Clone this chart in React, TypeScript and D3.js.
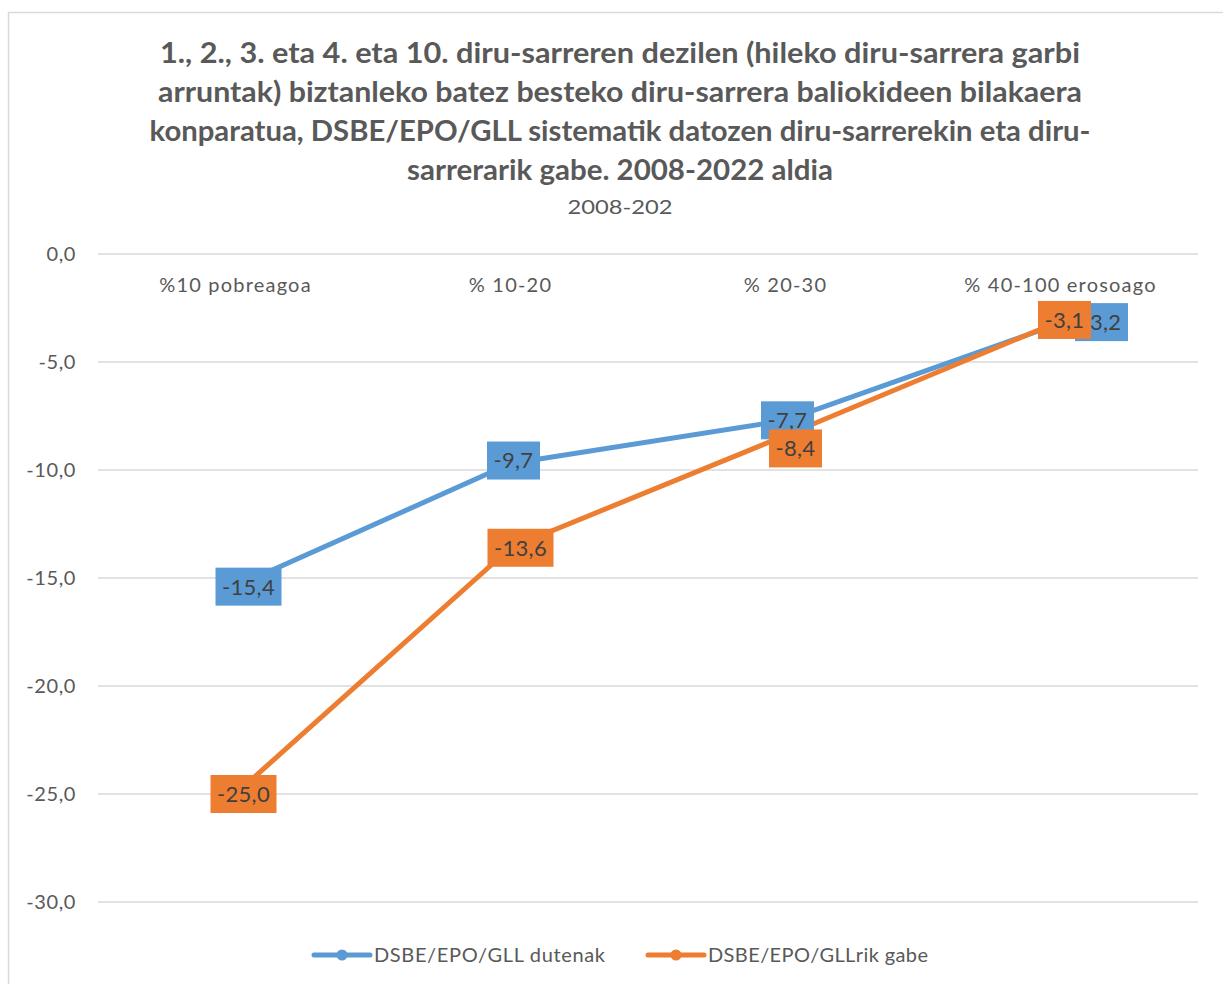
import * as d3 from 'd3'
import React from 'react'

const categories = ['%10 pobreagoa', '% 10-20', '% 20-30', '% 40-100 erosoago']
const withBenefits = [-15.4, -9.7, -7.7, -3.2]
const withoutBenefits = [-25.0, -13.6, -8.4, -3.1]
const yTicks = [0, -5, -10, -15, -20, -25, -30]
const seriesNames = ['DSBE/EPO/GLL dutenak', 'DSBE/EPO/GLLrik gabe']

const titleLines = [
  '1., 2., 3. eta 4. eta 10. diru-sarreren dezilen (hileko diru-sarrera garbi',
  'arruntak) biztanleko batez besteko diru-sarrera baliokideen bilakaera',
  'konparatua, DSBE/EPO/GLL sistematik datozen diru-sarrerekin eta diru-',
  'sarrerarik gabe. 2008-2022 aldia',
]
const subtitle = '2008-202'

const COLORS = ['#5B9BD5', '#ED7D31']
const TEXT = '#595959'
const FONT = 'Lato, "Open Sans", sans-serif'

// label nudges where Excel moved overlapping labels
const labelOffsets = [
  [[13, 0], [3, -3], [2, 0], [41, -1]],
  [[8, 0], [10, 0], [10, 13], [4, -1]],
]

const fmt = (v: number) => d3.format('.1f')(v).replace('.', ',').replace('−', '-')

export default function App() {
  const width = 1223
  const height = 984
  const left = 98
  const right = 1198

  const x = d3.scaleBand().domain(categories).range([left, right])
  const y = d3.scaleLinear().domain([-30, 0]).range([902, 254])
  const cx = (c: string) => (x(c) as number) + x.bandwidth() / 2

  const series = [withBenefits, withoutBenefits]
  const line = d3
    .line<number>()
    .x((d, i) => cx(categories[i]))
    .y(d => y(d))

  const titleWidths = [920, 924, 941, 426]
  const titleY = [63, 102, 141, 180]

  return (
    <svg width={width} height={height} style={{ position: 'absolute', left: 0, top: 0 }} fontFamily={FONT}>
      <rect x={0} y={0} width={width} height={height} fill="#fff" />
      <rect x={8.5} y={12.5} width={width + 20} height={height + 20} fill="none" stroke="#d9d9d9" strokeWidth={1.5} />

      {titleLines.map((t, i) => (
        <text
          key={i}
          x={620}
          y={titleY[i]}
          textAnchor="middle"
          fontSize={28}
          fontWeight="bold"
          fill={TEXT}
          textLength={titleWidths[i]}
          lengthAdjust="spacingAndGlyphs"
        >
          {t}
        </text>
      ))}
      <text x={620} y={214} textAnchor="middle" fontSize={20} fill={TEXT} textLength={105} lengthAdjust="spacingAndGlyphs">
        {subtitle}
      </text>

      <g>
        {yTicks.map(t => (
          <g key={t}>
            <line x1={left} x2={right} y1={y(t)} y2={y(t)} stroke="#d9d9d9" strokeWidth={1.5} />
            <text x={76} y={y(t)} dy="0.35em" textAnchor="end" fontSize={20} letterSpacing={0.6} fill={TEXT}>
              {fmt(t)}
            </text>
          </g>
        ))}
      </g>

      {categories.map(c => (
        <text key={c} x={cx(c)} y={285} dy="0.35em" textAnchor="middle" fontSize={20} letterSpacing={1.2} fill={TEXT}>
          {c}
        </text>
      ))}

      {series.map((s, si) => (
        <path key={si} d={line(s) as string} fill="none" stroke={COLORS[si]} strokeWidth={5} strokeLinejoin="round" />
      ))}

      {series.map((s, si) =>
        s.map((v, i) => {
          const label = fmt(v)
          const w = label.length * 13 + 1
          const h = 38
          const [dx, dy] = labelOffsets[si][i]
          const px = cx(categories[i]) + dx
          const py = y(v) + dy
          return (
            <g key={`${si}-${i}`}>
              <circle cx={cx(categories[i])} cy={y(v)} r={5} fill={COLORS[si]} />
              <rect x={px - w / 2} y={py - h / 2} width={w} height={h} fill={COLORS[si]} />
              <text x={px} y={py} dy="0.36em" textAnchor="middle" fontSize={22} letterSpacing={0.3} fill="#404040">
                {label}
              </text>
            </g>
          )
        })
      )}

      {seriesNames.map((n, si) => {
        const x0 = [314, 648][si]
        const textW = [231, 220][si]
        return (
          <g key={n}>
            <line x1={x0} x2={x0 + 56} y1={955} y2={955} stroke={COLORS[si]} strokeWidth={5} strokeLinecap="round" />
            <circle cx={x0 + 28} cy={955} r={5.5} fill={COLORS[si]} />
            <text
              x={x0 + 60}
              y={955}
              dy="0.35em"
              fontSize={20}
              fill={TEXT}
              textLength={textW}
              lengthAdjust="spacing"
            >
              {n}
            </text>
          </g>
        )
      })}
    </svg>
  )
}
